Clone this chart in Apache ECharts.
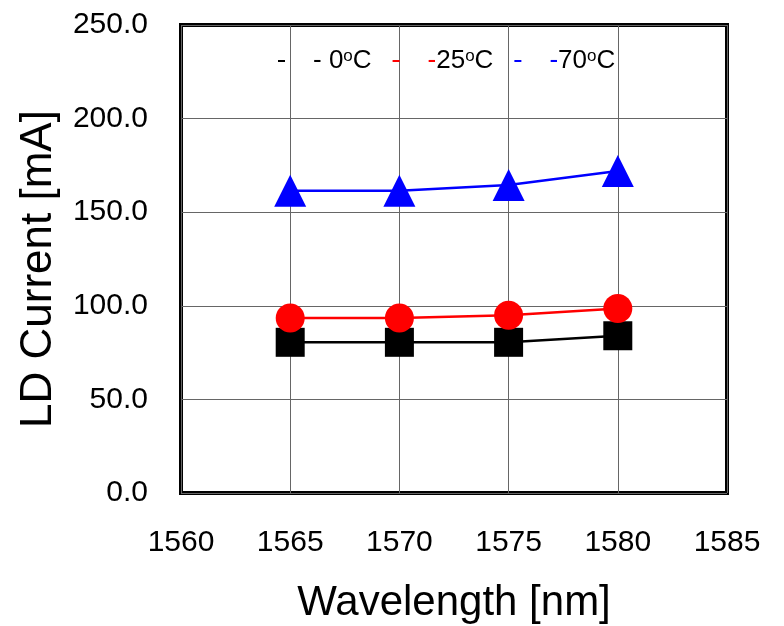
<!DOCTYPE html>
<html>
<head>
<meta charset="utf-8">
<script src="https://cdn.jsdelivr.net/npm/echarts@6/dist/echarts.min.js"></script>
<style>
  html, body { margin: 0; padding: 0; background: #fff; }
  #main { width: 784px; height: 626px; }
</style>
</head>
<body>
<div id="main"></div>
<script>
// wavelength points [nm]
var wavelengths = [1565, 1570, 1575, 1580];
// LD current [mA] per case temperature
var current0C = [80.5, 80.5, 80.5, 84];
var current25C = [93.5, 93.5, 95, 98.5];
var current70C = [161.5, 161.5, 164.5, 172];
var seriesNames = ['0', '25', '70'];
var seriesColors = ['#000000', '#ff0000', '#0000ff'];

function pairs(ys) {
  return wavelengths.map(function (x, i) { return [x, ys[i]]; });
}

var chart = echarts.init(document.getElementById('main'), null, { renderer: 'canvas' });

var font = 'Liberation Sans, Arial, sans-serif';

function dashStyle(c) {
  return { color: c, fontSize: 26, fontFamily: font, padding: [0, 0, 0, 23] };
}

var option = {
  animation: false,
  grid: {
    left: 181, top: 25, right: 57, bottom: 133,
    outerBoundsMode: 'none',
    containLabel: false,
    show: true,
    borderColor: '#000',
    borderWidth: 4,
    backgroundColor: 'transparent'
  },
  legend: {
    top: 43,
    left: 273,
    itemGap: 21,
    itemWidth: 7,
    itemHeight: 2,
    icon: 'rect',
    data: seriesNames.map(function (n, i) {
      return { name: n, itemStyle: { color: seriesColors[i] } };
    }),
    formatter: function (name) {
      var i = seriesNames.indexOf(name);
      var sep = name === '0' ? ' ' : '';
      return '{d' + i + '|-}{t|' + sep + name + '}{s|o}{t|C}';
    },
    textStyle: {
      fontFamily: font,
      fontSize: 26,
      color: '#000',
      rich: {
        d0: dashStyle('#000'),
        d1: dashStyle('#ff0000'),
        d2: dashStyle('#0000ff'),
        t: { color: '#000', fontSize: 26, fontFamily: font },
        s: { color: '#000', fontSize: 17, fontFamily: font, verticalAlign: 'top', padding: [0, 0, 8, 0] }
      }
    }
  },
  xAxis: {
    type: 'value',
    min: 1560,
    max: 1585,
    interval: 5,
    name: 'Wavelength [nm]',
    nameLocation: 'middle',
    nameGap: 89,
    nameTextStyle: { fontFamily: font, fontSize: 42, color: '#000' },
    axisLine: { show: false },
    axisTick: { show: false },
    axisLabel: {
      fontFamily: font, fontSize: 30, color: '#000', margin: 35,
      formatter: function (v) { return String(v); }
    },
    splitLine: { show: true, lineStyle: { color: '#666', width: 1 } }
  },
  yAxis: {
    type: 'value',
    min: 0,
    max: 250,
    interval: 50,
    name: 'LD Current [mA]',
    nameLocation: 'middle',
    nameGap: 120,
    nameTextStyle: { fontFamily: font, fontSize: 44, color: '#000', padding: [0, 20, 0, 0] },
    axisLine: { show: false },
    axisTick: { show: false },
    axisLabel: {
      fontFamily: font, fontSize: 30, color: '#000', margin: 33,
      formatter: function (v) { return v.toFixed(1); }
    },
    splitLine: { show: true, lineStyle: { color: '#666', width: 1 } }
  },
  series: [
    {
      name: '0', type: 'line', data: pairs(current0C),
      symbol: 'rect', symbolSize: 29,
      lineStyle: { color: '#000', width: 2.5 },
      itemStyle: { color: '#000' }
    },
    {
      name: '25', type: 'line', data: pairs(current25C),
      symbol: 'circle', symbolSize: 29,
      lineStyle: { color: '#ff0000', width: 2.5 },
      itemStyle: { color: '#ff0000' }
    },
    {
      name: '70', type: 'line', data: pairs(current70C),
      symbol: 'triangle', symbolSize: 32,
      lineStyle: { color: '#0000ff', width: 2.5 },
      itemStyle: { color: '#0000ff' }
    }
  ]
};

chart.setOption(option);
</script>
</body>
</html>
